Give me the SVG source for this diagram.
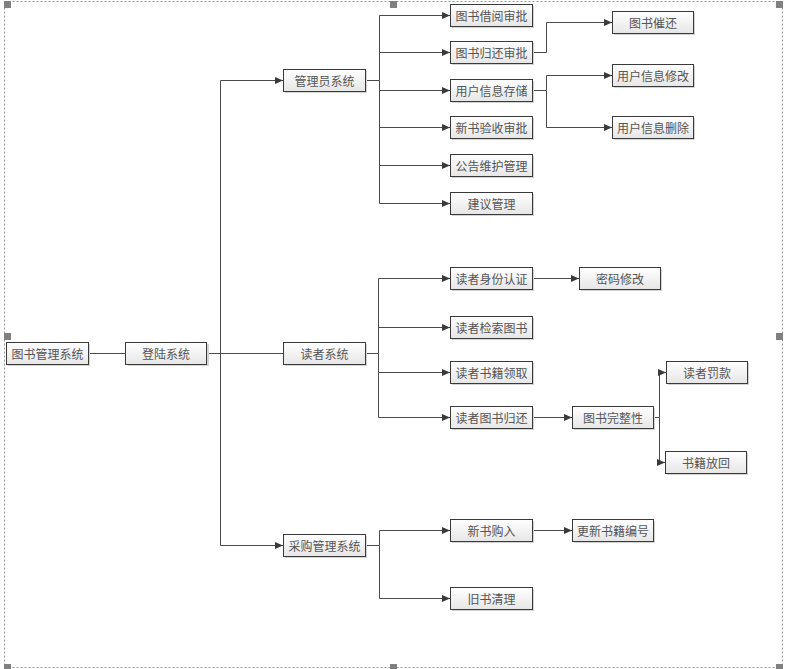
<svg xmlns="http://www.w3.org/2000/svg" width="788" height="669" viewBox="0 0 788 669">
<style>
.box{fill:url(#g);stroke:#3a3a3a;stroke-width:1}
.sh{fill:#d4d4d4}
.t{font-family:"Noto Sans CJK SC","Noto Sans",sans-serif;font-size:12px;fill:#555;text-anchor:middle;dominant-baseline:central}
.c{fill:none;stroke:#4a4a4a;stroke-width:1}
.h{fill:#808080}
</style>
<defs>
<linearGradient id="g" x1="0" y1="0" x2="0" y2="1">
<stop offset="0" stop-color="#ffffff"/>
<stop offset="1" stop-color="#e6e6e6"/>
</linearGradient>
<marker id="ar" markerUnits="userSpaceOnUse" markerWidth="9" markerHeight="8" refX="8" refY="3.5" orient="auto">
<path d="M0,0 L8,3.5 L0,7 z" fill="#3a3a3a"/>
</marker>
</defs>
<rect x="4.5" y="1.5" width="778" height="666" fill="none" stroke="#999" stroke-dasharray="2,2"/>
<g id="handles">
<rect class="h" x="4" y="1" width="7" height="7"/>
<rect class="h" x="390" y="1" width="7" height="7"/>
<rect class="h" x="776" y="1" width="7" height="7"/>
<rect class="h" x="4" y="333" width="7" height="7"/>
<rect class="h" x="776" y="333" width="7" height="7"/>
<rect class="h" x="4" y="664" width="7" height="7"/>
<rect class="h" x="390" y="664" width="7" height="7"/>
<rect class="h" x="776" y="664" width="7" height="7"/>
</g>
<g id="connectors">
<path class="c" d="M88 353.5 H126"/>
<path class="c" d="M207 353.5 H283"/>
<path class="c" d="M220.5 353.5 V80.5 H283" marker-end="url(#ar)"/>
<path class="c" d="M220.5 353.5 V545.5 H283" marker-end="url(#ar)"/>
<path class="c" d="M365 80.5 H379.5"/>
<path class="c" d="M379.5 80.5 V15.5 H450" marker-end="url(#ar)"/>
<path class="c" d="M379.5 52.5 H450" marker-end="url(#ar)"/>
<path class="c" d="M379.5 90.5 H450" marker-end="url(#ar)"/>
<path class="c" d="M379.5 127.5 H450" marker-end="url(#ar)"/>
<path class="c" d="M379.5 165.5 H450" marker-end="url(#ar)"/>
<path class="c" d="M379.5 80.5 V203.5 H450" marker-end="url(#ar)"/>
<path class="c" d="M532 52.5 H546.5 V22.5 H612" marker-end="url(#ar)"/>
<path class="c" d="M532 90.5 H546.5 V75.5 H612" marker-end="url(#ar)"/>
<path class="c" d="M546.5 90.5 V127.5 H612" marker-end="url(#ar)"/>
<path class="c" d="M365 353.5 H378.5"/>
<path class="c" d="M378.5 353.5 V278.5 H450" marker-end="url(#ar)"/>
<path class="c" d="M378.5 327.5 H450" marker-end="url(#ar)"/>
<path class="c" d="M378.5 353.5 V372.5 H450" marker-end="url(#ar)"/>
<path class="c" d="M378.5 372.5 V417.5 H450" marker-end="url(#ar)"/>
<path class="c" d="M532 278.5 H579" marker-end="url(#ar)"/>
<path class="c" d="M532 417.5 H572" marker-end="url(#ar)"/>
<path class="c" d="M653 417.5 H659.5"/>
<path class="c" d="M659.5 417.5 V372.5 H666" marker-end="url(#ar)"/>
<path class="c" d="M659.5 417.5 V462.5 H665" marker-end="url(#ar)"/>
<path class="c" d="M365 545.5 H379.5"/>
<path class="c" d="M379.5 545.5 V530.5 H450" marker-end="url(#ar)"/>
<path class="c" d="M379.5 545.5 V598.5 H450" marker-end="url(#ar)"/>
<path class="c" d="M532 530.5 H572" marker-end="url(#ar)"/>
</g>
<g id="n0"><rect class="sh" x="8" y="344" width="82" height="22"/><rect class="box" x="6.5" y="342.5" width="82" height="22"/><text class="t" x="47.5" y="353.5">图书管理系统</text></g>
<g id="n1"><rect class="sh" x="128" y="344" width="81" height="22"/><rect class="box" x="125.5" y="342.5" width="81" height="22"/><text class="t" x="166" y="353.5">登陆系统</text></g>
<g id="admin"><rect class="sh" x="285" y="71" width="82" height="22"/><rect class="box" x="283.5" y="69.5" width="82" height="22"/><text class="t" x="324.5" y="80.5">管理员系统</text></g>
<g id="reader"><rect class="sh" x="285" y="344" width="82" height="22"/><rect class="box" x="283.5" y="342.5" width="82" height="22"/><text class="t" x="324.5" y="353.5">读者系统</text></g>
<g id="purchase"><rect class="sh" x="285" y="536" width="82" height="22"/><rect class="box" x="283.5" y="534.5" width="82" height="22"/><text class="t" x="324.5" y="545.5">采购管理系统</text></g>
<g id="a1"><rect class="sh" x="452" y="6" width="82" height="22"/><rect class="box" x="450.5" y="4.5" width="82" height="22"/><text class="t" x="491.5" y="15.5">图书借阅审批</text></g>
<g id="a2"><rect class="sh" x="452" y="43" width="82" height="22"/><rect class="box" x="450.5" y="41.5" width="82" height="22"/><text class="t" x="491.5" y="52.5">图书归还审批</text></g>
<g id="a3"><rect class="sh" x="452" y="81" width="82" height="22"/><rect class="box" x="450.5" y="79.5" width="82" height="22"/><text class="t" x="491.5" y="90.5">用户信息存储</text></g>
<g id="a4"><rect class="sh" x="452" y="118" width="82" height="22"/><rect class="box" x="450.5" y="116.5" width="82" height="22"/><text class="t" x="491.5" y="127.5">新书验收审批</text></g>
<g id="a5"><rect class="sh" x="452" y="156" width="82" height="22"/><rect class="box" x="450.5" y="154.5" width="82" height="22"/><text class="t" x="491.5" y="165.5">公告维护管理</text></g>
<g id="a6"><rect class="sh" x="452" y="194" width="82" height="22"/><rect class="box" x="450.5" y="192.5" width="82" height="22"/><text class="t" x="491.5" y="203.5">建议管理</text></g>
<g id="a21"><rect class="sh" x="614" y="13" width="81" height="22"/><rect class="box" x="612.5" y="11.5" width="81" height="22"/><text class="t" x="653" y="22.5">图书催还</text></g>
<g id="a31"><rect class="sh" x="614" y="66" width="81" height="22"/><rect class="box" x="612.5" y="64.5" width="81" height="22"/><text class="t" x="653" y="75.5">用户信息修改</text></g>
<g id="a32"><rect class="sh" x="614" y="118" width="81" height="22"/><rect class="box" x="612.5" y="116.5" width="81" height="22"/><text class="t" x="653" y="127.5">用户信息删除</text></g>
<g id="r1"><rect class="sh" x="452" y="269" width="82" height="22"/><rect class="box" x="450.5" y="267.5" width="82" height="22"/><text class="t" x="491.5" y="278.5">读者身份认证</text></g>
<g id="r2"><rect class="sh" x="452" y="318" width="82" height="22"/><rect class="box" x="450.5" y="316.5" width="82" height="22"/><text class="t" x="491.5" y="327.5">读者检索图书</text></g>
<g id="r3"><rect class="sh" x="452" y="363" width="82" height="22"/><rect class="box" x="450.5" y="361.5" width="82" height="22"/><text class="t" x="491.5" y="372.5">读者书籍领取</text></g>
<g id="r4"><rect class="sh" x="452" y="408" width="82" height="22"/><rect class="box" x="450.5" y="406.5" width="82" height="22"/><text class="t" x="491.5" y="417.5">读者图书归还</text></g>
<g id="r11"><rect class="sh" x="581" y="269" width="81" height="22"/><rect class="box" x="579.5" y="267.5" width="81" height="22"/><text class="t" x="620" y="278.5">密码修改</text></g>
<g id="r41"><rect class="sh" x="574" y="408" width="81" height="22"/><rect class="box" x="572.5" y="406.5" width="81" height="22"/><text class="t" x="613" y="417.5">图书完整性</text></g>
<g id="r411"><rect class="sh" x="668" y="363" width="81" height="22"/><rect class="box" x="666.5" y="361.5" width="81" height="22"/><text class="t" x="707" y="372.5">读者罚款</text></g>
<g id="r412"><rect class="sh" x="667" y="453" width="81" height="22"/><rect class="box" x="665.5" y="451.5" width="81" height="22"/><text class="t" x="706" y="462.5">书籍放回</text></g>
<g id="p1"><rect class="sh" x="452" y="521" width="82" height="22"/><rect class="box" x="450.5" y="519.5" width="82" height="22"/><text class="t" x="491.5" y="530.5">新书购入</text></g>
<g id="p2"><rect class="sh" x="452" y="589" width="82" height="22"/><rect class="box" x="450.5" y="587.5" width="82" height="22"/><text class="t" x="491.5" y="598.5">旧书清理</text></g>
<g id="p11"><rect class="sh" x="574" y="521" width="81" height="22"/><rect class="box" x="572.5" y="519.5" width="81" height="22"/><text class="t" x="613" y="530.5">更新书籍编号</text></g>
</svg>
